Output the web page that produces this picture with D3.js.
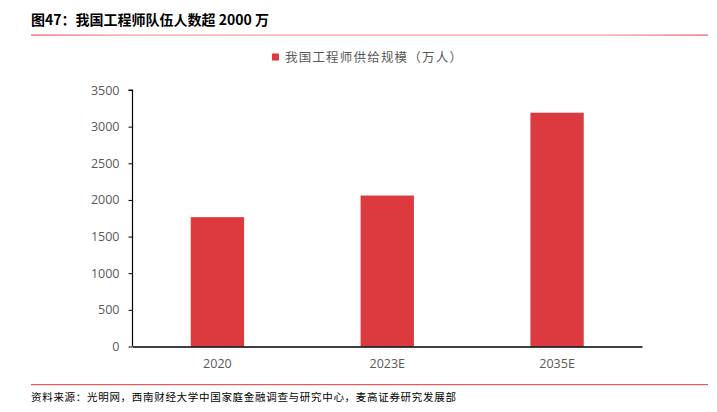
<!DOCTYPE html>
<html><head><meta charset="utf-8">
<script src="https://cdn.jsdelivr.net/npm/d3@7"></script>
<style>body{margin:0;background:#fff}svg{display:block}</style>
</head><body>
<script>
const categories = ["2020", "2023E", "2035E"];
const values = [1765, 2060, 3190];
const yTicks = [0, 500, 1000, 1500, 2000, 2500, 3000, 3500];
const seriesName = "我国工程师供给规模（万人）";
const titleText = "图47：我国工程师队伍人数超 2000 万";
const sourceText = "资料来源：光明网，西南财经大学中国家庭金融调查与研究中心，麦高证券研究发展部";

const W = 717, H = 412;
const svg = d3.select("body").append("svg").attr("width", W).attr("height", H);
const cjk = "'Noto Sans CJK SC', sans-serif";
const num = "'Open Sans', 'Noto Sans', sans-serif";

// title
svg.append("text").attr("x", 31).attr("y", 25).attr("font-family", cjk)
  .attr("font-size", 14).attr("font-weight", "bold").attr("fill", "#000").text(titleText);
const tg = svg.append("defs").append("linearGradient").attr("id", "lg");
tg.append("stop").attr("offset", "0%").attr("stop-color", "#e8575c");
tg.append("stop").attr("offset", "15%").attr("stop-color", "#f19a9d");
tg.append("stop").attr("offset", "85%").attr("stop-color", "#f19a9d");
tg.append("stop").attr("offset", "100%").attr("stop-color", "#e8575c");
svg.append("rect").attr("x", 31).attr("y", 34.5).attr("width", 677).attr("height", 1.2).attr("fill", "url(#lg)");

// source
svg.append("rect").attr("x", 31).attr("y", 384).attr("width", 677).attr("height", 1.2).attr("fill", "#e8575c");
svg.append("text").attr("x", 31).attr("y", 401).attr("font-family", cjk)
  .attr("font-size", 10.5).attr("letter-spacing", 0.7).attr("fill", "#000").text(sourceText);

// legend
svg.append("rect").attr("x", 272).attr("y", 53.5).attr("width", 7).attr("height", 7).attr("fill", "#dc3a3e");
svg.append("text").attr("x", 285).attr("y", 62).attr("font-family", cjk)
  .attr("font-size", 12.5).attr("letter-spacing", 1.2).attr("fill", "#595959").text(seriesName);

// scales
const x = d3.scaleBand().domain(categories).range([132.5, 642]).paddingInner(0.686).paddingOuter(0.343);
const y = d3.scaleLinear().domain([0, 3500]).range([346.5, 90]);

// bars
svg.append("g").selectAll("rect").data(values).join("rect")
  .attr("x", (d, i) => x(categories[i])).attr("width", x.bandwidth())
  .attr("y", d => y(d)).attr("height", d => y(0) - y(d)).attr("fill", "#dc3a3e");

// y axis
const ya = svg.append("g").attr("transform", "translate(132.5,0)")
  .call(d3.axisLeft(y).tickValues(yTicks).tickSize(4).tickPadding(9).tickFormat(d3.format("d")));
ya.select(".domain").attr("stroke", "#000").attr("stroke-width", 1.2).attr("d", `M-4,${y(3500)}H0V${y(0)}`);
ya.selectAll(".tick line").attr("stroke", "#000");
ya.selectAll(".tick text").attr("font-family", num).attr("font-size", 12.5).attr("fill", "#595959");

// x axis
const xa = svg.append("g").attr("transform", `translate(0,${y(0)})`)
  .call(d3.axisBottom(x).tickSize(0).tickPadding(13));
xa.select(".domain").attr("stroke", "#000").attr("stroke-width", 1.4);
xa.selectAll(".tick text").attr("font-family", num).attr("font-size", 12.5).attr("fill", "#595959");
</script>
</body></html>
